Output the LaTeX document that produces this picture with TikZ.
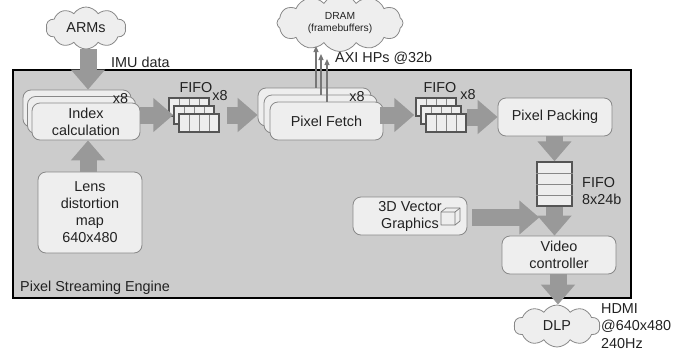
\documentclass[tikz,border=0pt]{standalone}
\usepackage{fontspec}
\setmainfont{Liberation Sans}
\usetikzlibrary{shapes.symbols,arrows.meta}
\definecolor{bgc}{HTML}{CCCCCC}
\definecolor{boxf}{HTML}{EEEEEE}
\definecolor{boxd}{HTML}{888888}
\definecolor{arr}{HTML}{999999}
\definecolor{fifod}{HTML}{555555}
\definecolor{txt}{HTML}{222222}
\definecolor{thin}{HTML}{777777}
\begin{document}
\begin{tikzpicture}[x=1pt,y=-1pt,
  font=\fontsize{14.4}{17}\selectfont, text=txt,
  rbox/.style={draw=boxd, fill=boxf, rounded corners=8pt, line width=0.8pt, inner sep=0pt, align=center},
  cloudbox/.style={cloud, cloud puffs=10, cloud puff arc=115, aspect=2, draw=boxd, fill=boxf, line width=0.8pt, inner sep=0pt, align=center},
  fifo/.style={draw=fifod, fill=boxf, line width=1.5pt, minimum width=40pt, minimum height=18pt, inner sep=0pt},
  cellline/.style={draw=boxd, line width=0.8pt},
  blk/.style={draw=arr, line width=17pt, line cap=butt, -{Triangle[length=20pt,width=33pt]}},
  thinarr/.style={draw=thin, line width=1.1pt, -{Triangle[length=6pt,width=5pt]}},
  lbl/.style={inner sep=0pt},
  fiforow/.pic={\node[fifo] (-r) at (0,0) {};
    \foreach \d in {-10,0,10} \draw[cellline] (\d,-8.2) -- (\d,8.2);}
]
\useasboundingbox (0,0) rectangle (694,354);

% main engine box
\node[draw=black, fill=bgc, line width=2pt, minimum width=618pt, minimum height=228pt, inner sep=0pt, anchor=north west] (pse) at (12,69) {};
\node[lbl, anchor=west] (psel) at (20,288) {Pixel Streaming Engine};

% clouds
\node[cloudbox, minimum width=80pt, minimum height=42pt] (arms) at (86,28) {ARMs};
\node[cloudbox, cloud puffs=12, minimum width=126pt, minimum height=42pt, font=\fontsize{10.3}{12.5}\selectfont] (dram) at (340,23) {DRAM\\(framebuffers)};
\node[cloudbox, minimum width=86pt, minimum height=42pt] (dlp) at (557,326) {DLP};

% labels outside
\node[lbl, anchor=west] (imu) at (111,62) {IMU data};
\node[lbl, anchor=west] (axi) at (335,58) {AXI HPs @32b};
\node[lbl, anchor=north west, align=left, font=\fontsize{14.4}{17.5}\selectfont] (hdmi) at (601,303) {HDMI\\@640x480\\240Hz};

% Index calculation stack
\node[rbox, minimum width=108pt, minimum height=37pt] (idxB) at (77,108.5) {};
\node[rbox, minimum width=108pt, minimum height=37pt] (idxM) at (81.5,115) {};
\node[rbox, minimum width=108pt, minimum height=37pt] (idxF) at (86,121.5) {Index\\calculation};
\node[lbl] (idxx) at (120.5,99) {x8};

% Lens distortion map
\node[rbox, minimum width=104pt, minimum height=81pt] (lens) at (90,212.5) {Lens\\distortion\\map\\640x480};

% FIFO stack 1
\pic (fA1) at (189,107) {fiforow};
\pic (fA2) at (194,115) {fiforow};
\pic (fA3) at (199,123) {fiforow};
\node[lbl] (fAl) at (196,88) {FIFO};
\node[lbl] (fAx) at (220,96) {x8};

% Pixel Fetch stack
\node[rbox, minimum width=113pt, minimum height=38pt] (pfB) at (314.5,107) {};
\node[rbox, minimum width=113pt, minimum height=38pt] (pfM) at (320.5,114) {};
\node[rbox, minimum width=113pt, minimum height=38pt] (pfF) at (326.5,121) {Pixel Fetch};
\node[lbl] (pfx) at (357,97) {x8};

% FIFO stack 2
\pic (fB1) at (436,107) {fiforow};
\pic (fB2) at (441,115) {fiforow};
\pic (fB3) at (446,123) {fiforow};
\node[lbl] (fBl) at (440,88) {FIFO};
\node[lbl] (fBx) at (468,95) {x8};

% Pixel Packing
\node[rbox, minimum width=114pt, minimum height=38pt] (pack) at (555,117) {Pixel Packing};

% vertical FIFO
\node[draw=fifod, fill=boxf, line width=1.5pt, minimum width=35pt, minimum height=44pt, inner sep=0pt] (fifoV) at (554.5,184) {};
\foreach \d in {-11,0,11} \draw[cellline] ([yshift=-\d pt]fifoV.west) -- ([yshift=-\d pt]fifoV.east);
\node[lbl, anchor=west, align=left] (fVl) at (582,191.5) {FIFO\\8x24b};

% 3D Vector Graphics
\node[rbox, minimum width=114pt, minimum height=38pt] (vg) at (410,216) {3D Vector\\Graphics};
\draw[draw=thin, fill=boxf, line width=0.7pt, line join=round] (441,212) -- (446,208) -- (460,208) -- (460,221) -- (455,225) -- (441,225) -- cycle;
\draw[draw=thin, line width=0.7pt, line join=round] (441,212) -- (455,212) -- (460,208) (455,212) -- (455,225);

% Video controller
\node[rbox, minimum width=114pt, minimum height=38pt] (video) at (559,255) {Video\\controller};

% thin arrows to DRAM
\coordinate (ax1) at (316,46);
\coordinate (ax2) at (321,54);
\coordinate (ax3) at (327,59);
\draw[thinarr] (pfB.north -| ax1) -- (ax1);
\draw[thinarr] (pfM.north -| ax2) -- (ax2);
\draw[thinarr] (pfF.north -| ax3) -- (ax3);

% block arrows
\draw[blk] (arms.south -| 88,0) -- (idxB.north -| 88,0);
\draw[blk] (lens.north -| 88,0) -- (idxF.south -| 88,0);
\draw[blk] (idxF.east |- fA2-r.center) -- (fA2-r.west);
\draw[blk] ([xshift=7pt]fA3-r.east |- fA2-r.center) -- (pfB.west |- fA2-r.center);
\draw[blk] ([xshift=-3pt]pfF.east |- fB2-r.center) -- ([xshift=-1pt]fB1-r.west |- fB2-r.center);
\draw[blk] (fB3-r.east |- pack.west) -- (pack.west);
\draw[blk] (pack.south -| fifoV.north) -- (fifoV.north);
\draw[blk] ([xshift=5pt,yshift=-1.5pt]vg.east) -- ([xshift=3pt,yshift=-1.5pt]vg.east -| fifoV.west);
\draw[blk] (fifoV.south) -- (video.north -| fifoV.south);
\draw[blk] ([xshift=-1pt]video.south) -- ([xshift=-1pt]video.south |- dlp.north);
\end{tikzpicture}
\end{document}
